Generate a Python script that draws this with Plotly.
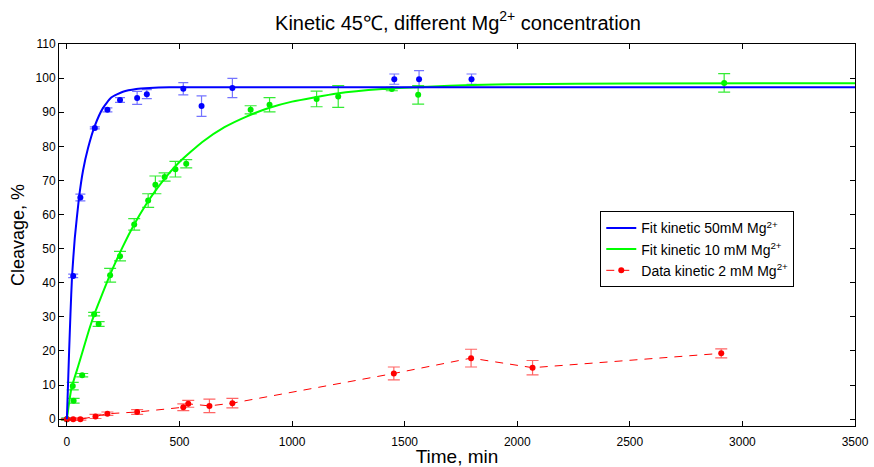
import plotly.graph_objects as go

# ---- data ----
# 50 mM Mg2+ data
t_blue = [0, 28, 60, 124, 180, 236, 312, 355, 517, 598, 735, 1454, 1564, 1797]
v_blue = [0, 42.0, 65.0, 85.4, 90.7, 93.6, 94.2, 95.3, 96.9, 91.8, 97.1, 99.7, 99.7, 99.7]
e_blue = [0.3, 0.5, 1.0, 0.3, 0.6, 0.7, 1.9, 1.3, 1.8, 3.0, 2.8, 1.5, 2.5, 1.5]

# 50 mM fit curve
t_blue_fit = [0, 5, 10, 16, 23, 35, 54, 72, 94, 124, 160, 197, 249, 308, 367, 455, 3500]
v_blue_fit = [0, 10.0, 20.0, 31.0, 42.0, 53.0, 65.0, 73.0, 79.5, 86.0, 91.2, 94.3, 96.0, 96.8, 97.1, 97.3, 97.3]

# 10 mM Mg2+ data
t_green = [0, 26, 30, 68, 121, 141, 192, 236, 299, 361, 393, 434, 482, 530, 816, 900, 1109, 1205, 1443, 1560, 2919]
v_green = [0, 9.7, 5.4, 12.9, 30.8, 27.9, 42.2, 47.8, 57.1, 64.1, 68.7, 71.0, 73.3, 74.9, 90.7, 92.2, 93.9, 94.6, 96.8, 95.1, 98.6]
e_green = [0.3, 1.1, 0.7, 0.5, 0.5, 0.7, 2.0, 1.4, 1.7, 2.0, 2.6, 1.2, 2.3, 1.2, 1.2, 2.1, 2.3, 3.2, 0.5, 2.7, 2.7]

# 10 mM fit curve
t_green_fit = [0, 20, 50, 75, 100, 125, 150, 200, 250, 300, 350, 400, 450, 500, 600, 700, 800,
               900, 1000, 1200, 1400, 1600, 1800, 2000, 2500, 3500]
v_green_fit = [0, 9.0, 15.5, 21.0, 26.5, 31.3, 35.5, 43.6, 50.8, 57.2, 62.8, 67.6, 71.8, 75.4, 81.2,
               85.6, 88.8, 91.3, 93.1, 95.5, 96.8, 97.5, 98.0, 98.2, 98.4, 98.5]

# 2 mM Mg2+ data
t_red = [0, 28, 60, 127, 180, 312, 517, 539, 633, 735, 1452, 1795, 2068, 2906]
v_red = [0, 0, 0, 0.8, 1.6, 2.1, 3.5, 4.5, 3.9, 4.7, 13.4, 17.9, 15.1, 19.3]
e_red = [0.2, 0.3, 0.3, 0.6, 0.5, 0.7, 1.0, 1.0, 2.0, 1.4, 1.9, 2.6, 2.1, 1.3]

x_ticks = [0, 500, 1000, 1500, 2000, 2500, 3000, 3500]
y_ticks = list(range(0, 111, 10))

FONT = "Liberation Sans, Arial, sans-serif"

fig = go.Figure()

# blue data with error bars
fig.add_trace(go.Scatter(
    x=t_blue, y=v_blue, mode="markers", showlegend=False,
    marker=dict(color="#0000ff", size=6),
    error_y=dict(type="data", array=e_blue, color="rgba(70,70,255,0.75)", thickness=1.2, width=5),
))
# green data with error bars
fig.add_trace(go.Scatter(
    x=t_green, y=v_green, mode="markers", showlegend=False,
    marker=dict(color="#00ee00", size=6),
    error_y=dict(type="data", array=e_green, color="rgba(0,230,0,0.8)", thickness=1.2, width=6),
))
# red data
fig.add_trace(go.Scatter(
    x=t_red, y=v_red, mode="lines+markers", name="Data kinetic 2 mM Mg<sup>2+</sup>",
    line=dict(color="#ff0000", width=1, dash="8px,7px"),
    marker=dict(color="#ff0000", size=6),
    error_y=dict(type="data", array=e_red, color="rgba(255,50,50,0.75)", thickness=1.2, width=6),
))
# fits
fig.add_trace(go.Scatter(
    x=t_green_fit, y=v_green_fit, mode="lines", name="Fit kinetic 10 mM Mg<sup>2+</sup>",
    line=dict(color="#00ff00", width=2, shape="spline", smoothing=0.5),
))
fig.add_trace(go.Scatter(
    x=t_blue_fit, y=v_blue_fit, mode="lines", name="Fit kinetic 50mM Mg<sup>2+</sup>",
    line=dict(color="#0000ff", width=2, shape="spline", smoothing=0.5),
))

fig.update_layout(
    width=874, height=467,
    paper_bgcolor="white", plot_bgcolor="white",
    margin=dict(l=59, r=19, t=44, b=41),
    font=dict(family=FONT, size=12, color="black"),
    title=dict(text="Kinetic 45\u2103, different Mg<sup>2+</sup> concentration",
               x=0.524, xanchor="center", y=0.966, yanchor="top",
               font=dict(family=FONT, size=20, color="black")),
    legend=dict(x=0.68, y=0.562, xanchor="left", yanchor="top",
                bgcolor="white", bordercolor="black", borderwidth=1,
                font=dict(family=FONT, size=14, color="black"),
                traceorder="reversed", tracegroupgap=0),
    showlegend=True,
)

fig.update_xaxes(
    range=[-35, 3500], tickvals=x_ticks, ticktext=[str(v) for v in x_ticks],
    showgrid=False, zeroline=False, showline=True, mirror="ticks", automargin=False,
    linecolor="black", linewidth=1, ticks="inside", ticklen=5, tickcolor="black",
    ticklabelstandoff=5,
    title=dict(text="Time, min", font=dict(family=FONT, size=19), standoff=4),
    tickfont=dict(family=FONT, size=12),
)
fig.update_yaxes(
    range=[-2, 110], tickvals=y_ticks, ticktext=[str(v) for v in y_ticks],
    showgrid=False, zeroline=False, showline=True, mirror="ticks", automargin=False,
    linecolor="black", linewidth=1, ticks="inside", ticklen=5, tickcolor="black",
    title=dict(text="Cleavage, %", font=dict(family=FONT, size=18), standoff=6),
    tickfont=dict(family=FONT, size=12),
)

fig.write_html("out.html", config={"displayModeBar": False},
               post_script="document.body.style.margin='0px';")
